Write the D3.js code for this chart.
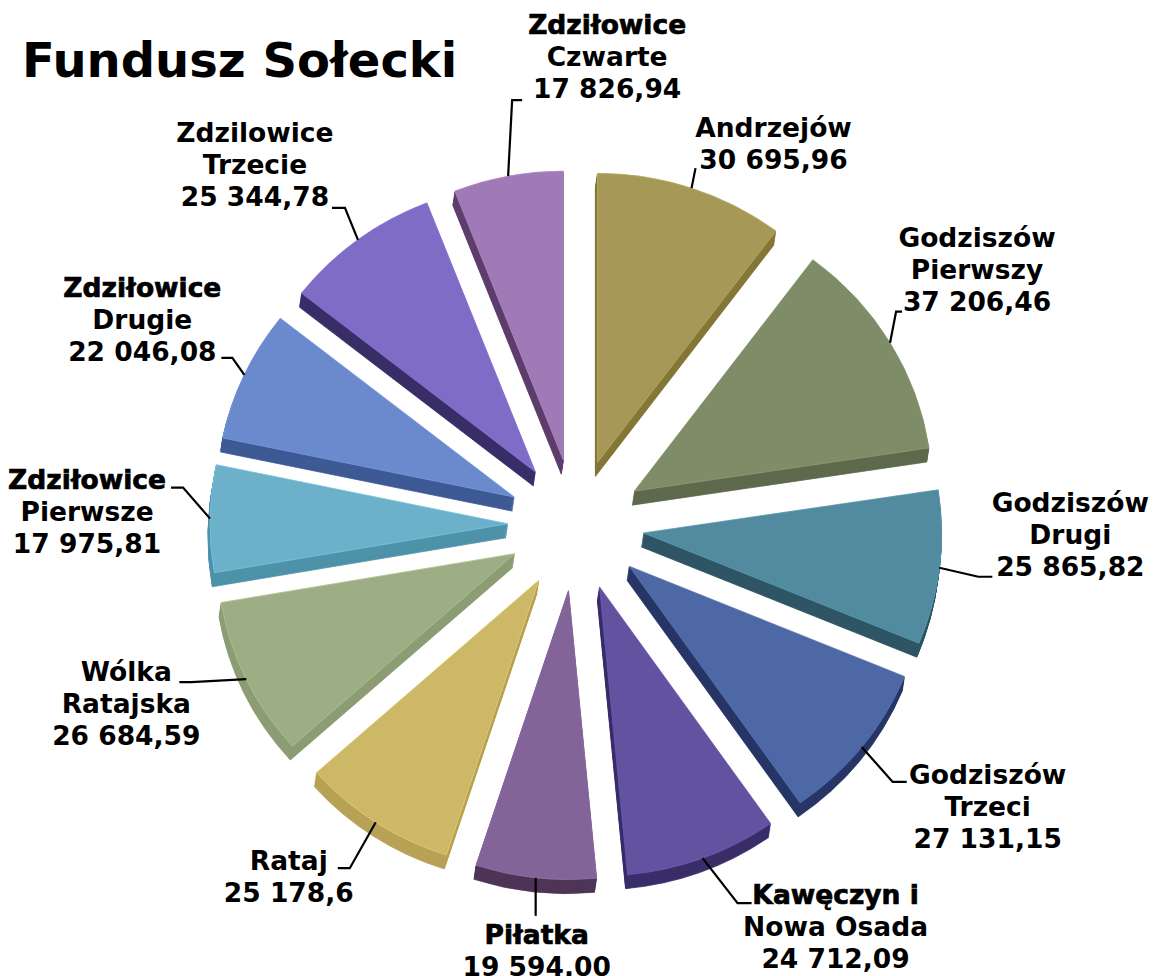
<!DOCTYPE html>
<html>
<head>
<meta charset="utf-8">
<script src="https://cdn.jsdelivr.net/npm/d3@7"></script>
<style>
  html, body { margin: 0; padding: 0; background: #ffffff; }
  svg { display: block; }
</style>
</head>
<body>
<div id="chart"></div>
<script>
// ---------- DATA ----------
const categories = [
  "Andrzejów", "Godziszów Pierwszy", "Godziszów Drugi", "Godziszów Trzeci",
  "Kawęczyn i Nowa Osada", "Piłatka", "Rataj", "Wólka Ratajska",
  "Zdziłowice Pierwsze", "Zdziłowice Drugie", "Zdzilowice Trzecie", "Zdziłowice Czwarte"
];
const labelLines = [
  ["Andrzejów"], ["Godziszów", "Pierwszy"], ["Godziszów", "Drugi"], ["Godziszów", "Trzeci"],
  ["Kawęczyn i", "Nowa Osada"], ["Piłatka"], ["Rataj"], ["Wólka", "Ratajska"],
  ["Zdziłowice", "Pierwsze"], ["Zdziłowice", "Drugie"], ["Zdzilowice", "Trzecie"], ["Zdziłowice", "Czwarte"]
];
const values = [
  30695.96, 37206.46, 25865.82, 27131.15,
  24712.09, 19594.00, 25178.6, 26684.59,
  17975.81, 22046.08, 25344.78, 17826.94
];
const valueLabels = [
  "30 695,96", "37 206,46", "25 865,82", "27 131,15",
  "24 712,09", "19 594,00", "25 178,6", "26 684,59",
  "17 975,81", "22 046,08", "25 344,78", "17 826,94"
];
const title = "Fundusz Sołecki";

// ---------- STYLE / LAYOUT ----------
const topColors = [
  "#A69856", "#7E8C68", "#528BA0", "#4D68A5",
  "#6352A0", "#836498", "#CDB868", "#9DAE84",
  "#6CB0C9", "#6A8ACD", "#7E6CC6", "#A07AB6"
];
const sideColors = [
  "#857838", "#5E6A4C", "#2E5664", "#273766",
  "#3A2E6A", "#4E3558", "#B7A255", "#8C9D74",
  "#4E93A8", "#3F5A95", "#3A2F68", "#5E3F6C"
];
// text block centre (first baseline) relative to the leader's arc point
const labelOffsets = [
  [82, -51], [87, -96], [131, -56], [126, 37],
  [133, 46], [1, 66], [-87, 48], [-120, 2],
  [-123, -30], [-102, -78], [-103, -98], [99, -142]
];
// leader line bend points relative to the arc point
const leaderBends = [
  [[4, -20]], [[6, -31], [12, -31]], [[39, 9], [53, 9]], [[31, 35], [45, 35]],
  [[35, 45], [49, 45]], [[0, 10], [0, 38]], [[-26, 46], [-38, 46]], [[-55, 3], [-67, 3]],
  [[-27, -31], [-39, -31]], [[-12, -17], [-23, -17]], [[-13, -32], [-26, -32]], [[4, -76], [14, -76]]
];
const heavyFirstLine = [false, false, false, false, true, true, false, false, true, true, false, true];

const W = 1155, H = 976;
const cx = 576, cy = 525;
const radius = 298;
const yScale = 0.97;
const explode = 68;
const depth = 14;
const lineH = 32;

const svg = d3.select("#chart").append("svg")
  .attr("width", W).attr("height", H)
  .attr("viewBox", `0 0 ${W} ${H}`);

svg.append("rect").attr("width", W).attr("height", H).attr("fill", "#ffffff");

const pie = d3.pie().sort(null).value(d => d)(values);
const arc = d3.arc().innerRadius(0).outerRadius(radius);

function sliceCenter(d) {
  const a = (d.startAngle + d.endAngle) / 2;
  return [cx + explode * Math.sin(a), cy - explode * yScale * Math.cos(a)];
}

// sides (extrusion)
const sides = svg.append("g").attr("class", "sides");
pie.forEach((d, i) => {
  const [ox, oy] = sliceCenter(d);
  for (let k = depth; k >= 1; k--) {
    sides.append("path")
      .attr("d", arc(d))
      .attr("transform", `translate(${ox - 0.15 * k},${oy + k}) scale(1,${yScale})`)
      .attr("fill", sideColors[i])
      .attr("stroke", sideColors[i])
      .attr("stroke-width", 0.8);
  }
});

// top faces
const tops = svg.append("g").attr("class", "tops");
pie.forEach((d, i) => {
  const [ox, oy] = sliceCenter(d);
  tops.append("path")
    .attr("d", arc(d))
    .attr("transform", `translate(${ox},${oy}) scale(1,${yScale})`)
    .attr("fill", topColors[i])
    .attr("stroke", d3.color(topColors[i]).brighter(0.3))
    .attr("stroke-width", 0.8);
});

// leader lines and labels
const labels = svg.append("g").attr("class", "labels");
pie.forEach((d, i) => {
  const a = (d.startAngle + d.endAngle) / 2;
  const [ox, oy] = sliceCenter(d);
  const px = ox + radius * Math.sin(a);
  const py = oy - radius * yScale * Math.cos(a);
  const pts = [[px, py]].concat(leaderBends[i].map(b => [px + b[0], py + b[1]]));
  labels.append("path")
    .attr("d", d3.line()(pts))
    .attr("fill", "none")
    .attr("stroke", "#000")
    .attr("stroke-width", 2.2);

  const lines = labelLines[i].concat([valueLabels[i]]);
  const tx = px + labelOffsets[i][0];
  const ty = py + labelOffsets[i][1];
  const t = labels.append("text")
    .attr("x", tx).attr("y", ty)
    .attr("text-anchor", "middle")
    .attr("font-family", "'DejaVu Sans', Verdana, sans-serif")
    .attr("font-weight", "bold")
    .attr("font-size", 26.5)
    .attr("fill", "#000");
  lines.forEach((ln, j) => {
    const ts = t.append("tspan")
      .attr("x", tx)
      .attr("dy", j === 0 ? 0 : lineH)
      .text(ln);
    if (j === 0 && heavyFirstLine[i]) {
      ts.attr("stroke", "#000").attr("stroke-width", 0.7);
    }
  });
});

// title
svg.append("text")
  .attr("x", 22).attr("y", 77)
  .attr("font-family", "'DejaVu Sans', Verdana, sans-serif")
  .attr("font-weight", "bold")
  .attr("font-size", 48)
  .attr("fill", "#000")
  .text(title);
</script>
</body>
</html>
